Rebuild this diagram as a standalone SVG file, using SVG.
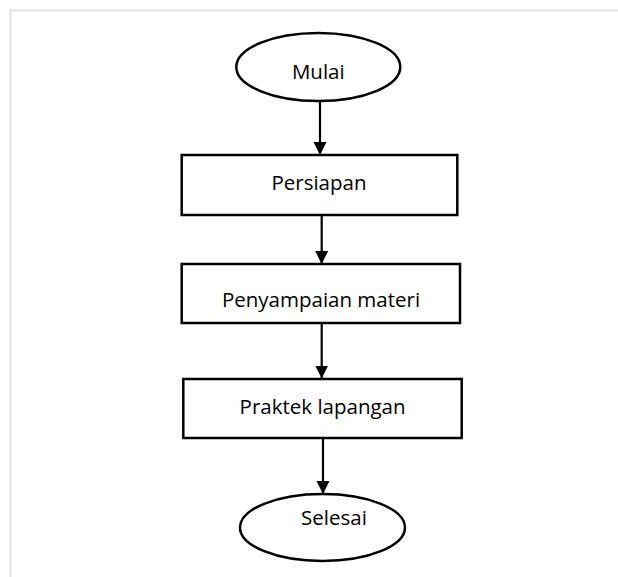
<svg xmlns="http://www.w3.org/2000/svg" width="618" height="577" viewBox="0 0 618 577">
<style>
.shape{fill:#fff;stroke:#000;stroke-width:2.5}
.lbl{font-family:"Open Sans","Noto Sans",sans-serif;font-size:20.5px;fill:#000;text-anchor:middle}
.conn{stroke:#000;stroke-width:2.2;fill:none}
</style>
<defs>
<marker id="ah" markerUnits="userSpaceOnUse" markerWidth="14" markerHeight="14" refX="13" refY="6.5" orient="auto">
<path d="M0,0 L13,6.5 L0,13 Z" fill="#000"/>
</marker>
</defs>
<rect width="618" height="577" fill="#fff"/>
<path d="M10.5,577 V10.5 H618" fill="none" stroke="#e2e2e2" stroke-width="2"/>
<g id="connectors">
<line class="conn" x1="320" y1="101" x2="320" y2="155" marker-end="url(#ah)"/>
<line class="conn" x1="321.7" y1="215" x2="321.7" y2="264" marker-end="url(#ah)"/>
<line class="conn" x1="321.7" y1="323" x2="321.7" y2="378.5" marker-end="url(#ah)"/>
<line class="conn" x1="323" y1="438" x2="323" y2="494" marker-end="url(#ah)"/>
</g>
<g id="mulai">
<ellipse class="shape" cx="318.3" cy="67" rx="82" ry="34"/>
<text class="lbl" x="318.3" y="79.3">Mulai</text>
</g>
<g id="persiapan">
<rect class="shape" x="181.7" y="155" width="275.6" height="60"/>
<text class="lbl" x="319" y="190">Persiapan</text>
</g>
<g id="penyampaian">
<rect class="shape" x="181.7" y="264" width="278.3" height="59"/>
<text class="lbl" x="321" y="306.7">Penyampaian materi</text>
</g>
<g id="praktek">
<rect class="shape" x="183.3" y="379" width="278.4" height="59"/>
<text class="lbl" x="322.6" y="414">Praktek lapangan</text>
</g>
<g id="selesai">
<ellipse class="shape" cx="322.5" cy="527.5" rx="82.5" ry="33.5"/>
<text class="lbl" x="334" y="525">Selesai</text>
</g>
</svg>
